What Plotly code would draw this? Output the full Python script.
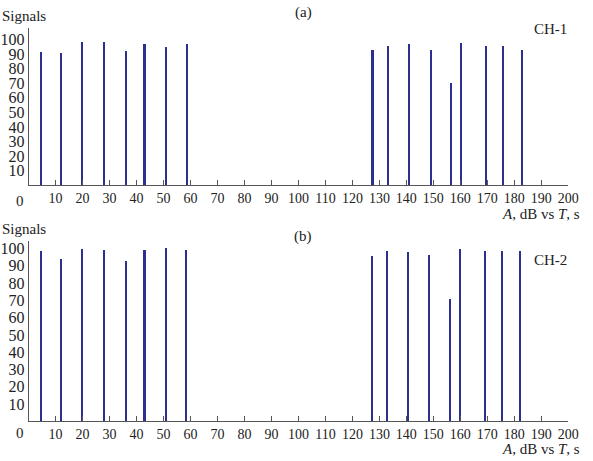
import plotly.graph_objects as go

# channel 1 (panel a)
ch1_t = [4.5, 12.0, 19.7, 27.8, 35.8, 42.8, 50.8, 58.6,
         127.3, 133.1, 140.8, 148.9, 156.3, 160.2, 169.5, 175.7, 182.7]
ch1_signals = [91.7, 90.8, 98.6, 98.4, 92.0, 96.8, 94.7, 96.8,
               92.7, 95.4, 96.8, 93.1, 70.1, 97.7, 95.4, 95.8, 93.1]

# channel 2 (panel b)
ch2_t = [4.5, 12.0, 19.7, 27.8, 35.8, 42.8, 50.8, 58.2,
         127.1, 132.8, 140.4, 148.4, 156.0, 159.7, 169.1, 175.2, 182.1]
ch2_signals = [98.4, 93.8, 99.6, 99.0, 92.7, 99.0, 100.0, 99.0,
               95.2, 98.4, 97.7, 96.0, 70.7, 99.2, 98.4, 98.4, 98.0]

x_ticks = list(range(10, 201, 10))
y_ticks = list(range(10, 101, 10))

BAR_COLOR = '#2b3090'
AXIS_COLOR = '#555555'
FONT = dict(family='Liberation Serif', size=15, color='#222222')

fig = go.Figure()
fig.add_trace(go.Bar(x=ch1_t, y=ch1_signals, width=0.8, marker=dict(color=BAR_COLOR, line=dict(width=0)),
                     xaxis='x', yaxis='y', showlegend=False))
fig.add_trace(go.Bar(x=ch2_t, y=ch2_signals, width=0.8, marker=dict(color=BAR_COLOR, line=dict(width=0)),
                     xaxis='x2', yaxis='y2', showlegend=False))

xaxis_style = dict(range=[0, 200], tickvals=x_ticks, ticks='inside', ticklen=5, tickcolor=AXIS_COLOR,
                   showline=True, linecolor=AXIS_COLOR, linewidth=1, showgrid=False, zeroline=False,
                   tickfont=dict(FONT, size=14), domain=[0.0492, 0.9764], fixedrange=True)
yaxis_style = dict(tickvals=y_ticks, ticks='', showline=True, linecolor=AXIS_COLOR, linewidth=1,
                   showgrid=False, zeroline=False, tickfont=dict(FONT, size=16), fixedrange=True)

layout = go.Layout(
    width=593, height=461, autosize=False,
    margin=dict(l=0, r=0, t=0, b=0),
    plot_bgcolor='white', paper_bgcolor='white',
    bargap=0,
    font=FONT,
    xaxis=dict(xaxis_style, anchor='y'),
    yaxis=dict(yaxis_style, range=[0, 108], domain=[0.5996, 0.9414], anchor='x'),
    xaxis2=dict(xaxis_style, anchor='y2'),
    yaxis2=dict(yaxis_style, range=[0, 104], domain=[0.0861, 0.4772], anchor='x2'),
)

# panel labels and captions
ann = [
    dict(text='Signals', x=0, y=0.967, xanchor='left'),
    dict(text='(a)', x=0.521, y=0.976, xanchor='center'),
    dict(text='CH-1', x=0.978, y=0.939, xanchor='right'),
    dict(text='<i>A</i>, dB vs <i>T</i>, s', x=1.0, y=0.536, xanchor='right'),
    dict(text='0', x=0.034, y=0.566, xanchor='center'),
    dict(text='Signals', x=0, y=0.505, xanchor='left'),
    dict(text='(b)', x=0.521, y=0.487, xanchor='center'),
    dict(text='CH-2', x=0.978, y=0.438, xanchor='right'),
    dict(text='<i>A</i>, dB vs <i>T</i>, s', x=1.0, y=0.026, xanchor='right'),
    dict(text='0', x=0.034, y=0.061, xanchor='center'),
]
layout.annotations = [dict(a, xref='paper', yref='paper', yanchor='middle', showarrow=False, font=FONT)
                      for a in ann]

fig = go.Figure(data=fig.data, layout=layout)
fig.write_html("out.html", config=dict(displayModeBar=False, responsive=False),
               post_script="document.body.style.margin='0';"
                           "document.body.style.overflow='hidden';"
                           "document.documentElement.style.overflow='hidden';")
